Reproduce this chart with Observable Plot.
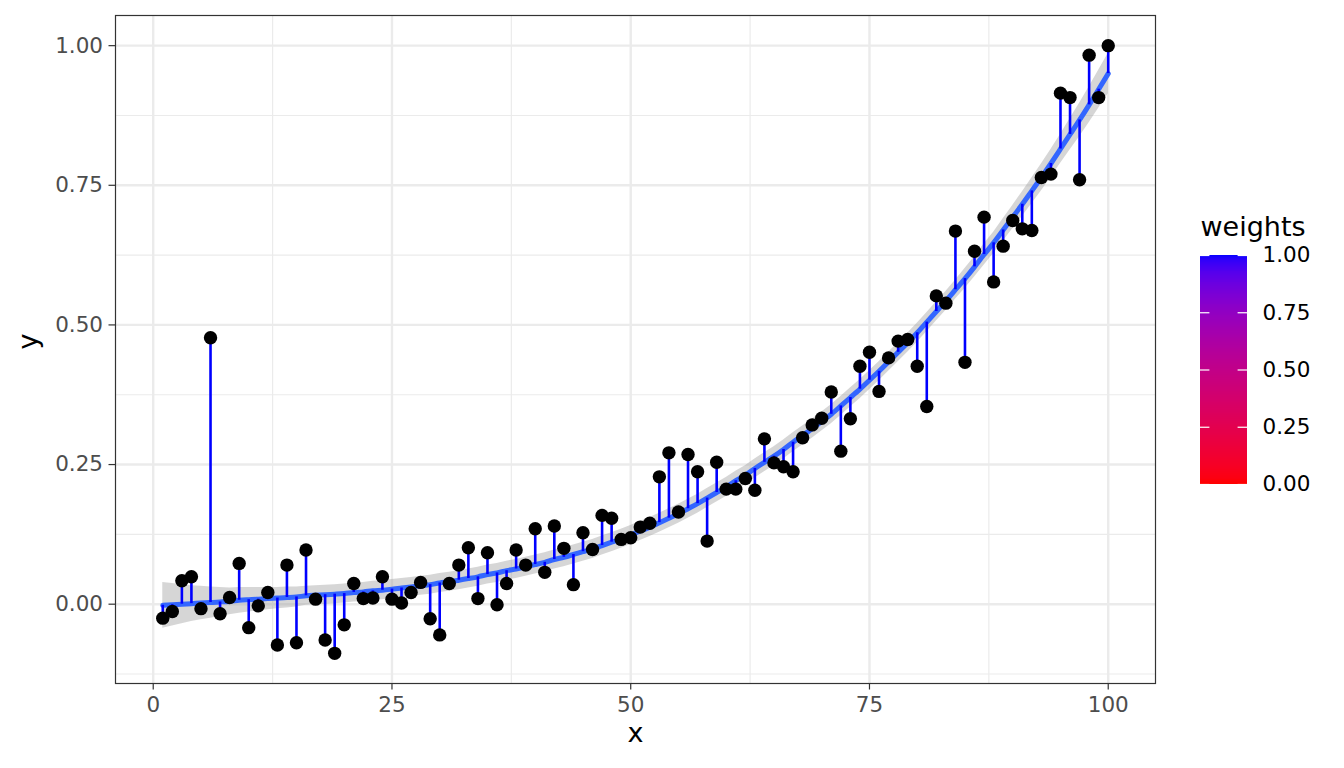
<!DOCTYPE html>
<html>
<head>
<meta charset="utf-8">
<script src="https://cdn.jsdelivr.net/npm/d3@7"></script>
<script src="https://cdn.jsdelivr.net/npm/@observablehq/plot@0.6"></script>
<style>
  html, body { margin: 0; padding: 0; background: #ffffff; }
  #wrap { position: relative; width: 1344px; height: 768px; font-family: "DejaVu Sans", sans-serif; }
  #legend { position: absolute; left: 1200px; top: 200px; }
</style>
</head>
<body>
<div id="wrap"><div id="chart"></div><div id="legend"></div></div>
<script>
// ---- data ----
const xs = [
  1,2,3,4,5,6,7,8,9,10,11,12,13,14,15,16,17,18,19,20,
  21,22,23,24,25,26,27,28,29,30,31,32,33,34,35,36,37,38,39,40,
  41,42,43,44,45,46,47,48,49,50,51,52,53,54,55,56,57,58,59,60,
  61,62,63,64,65,66,67,68,69,70,71,72,73,74,75,76,77,78,79,80,
  81,82,83,84,85,86,87,88,89,90,91,92,93,94,95,96,97,98,99,100
];
const yValues = [
  -0.025,-0.013,0.042,0.049,-0.008,0.477,-0.017,0.012,0.073,-0.042,
  -0.003,0.021,-0.073,0.070,-0.069,0.097,0.009,-0.064,-0.088,-0.037,
  0.037,0.010,0.011,0.049,0.009,0.002,0.021,0.039,-0.026,-0.055,
  0.037,0.070,0.101,0.010,0.092,-0.001,0.037,0.097,0.070,0.135,
  0.057,0.140,0.100,0.035,0.128,0.098,0.159,0.154,0.116,0.119,
  0.138,0.145,0.228,0.271,0.165,0.268,0.237,0.113,0.254,0.206,
  0.206,0.225,0.204,0.296,0.253,0.246,0.237,0.298,0.321,0.333,
  0.380,0.274,0.332,0.426,0.451,0.381,0.441,0.471,0.474,0.426,
  0.354,0.552,0.539,0.668,0.433,0.632,0.693,0.577,0.641,0.687,
  0.672,0.669,0.764,0.770,0.915,0.907,0.760,0.983,0.907,1.000
];
const fitted = [
  -0.002,-0.001,0.000,0.001,0.002,0.003,0.004,0.005,0.007,0.008,
  0.009,0.010,0.011,0.012,0.013,0.015,0.016,0.017,0.018,0.019,
  0.021,0.022,0.024,0.025,0.027,0.029,0.031,0.033,0.035,0.038,
  0.040,0.043,0.046,0.049,0.053,0.056,0.060,0.063,0.067,0.071,
  0.075,0.080,0.084,0.089,0.094,0.099,0.105,0.111,0.117,0.124,
  0.131,0.138,0.146,0.154,0.162,0.171,0.180,0.190,0.200,0.210,
  0.221,0.231,0.243,0.254,0.265,0.277,0.290,0.302,0.314,0.327,
  0.340,0.355,0.370,0.385,0.401,0.417,0.434,0.451,0.468,0.486,
  0.505,0.524,0.543,0.563,0.583,0.604,0.626,0.647,0.670,0.693,
  0.716,0.740,0.764,0.789,0.815,0.841,0.867,0.894,0.922,0.950
];
// half-width of the grey confidence band
const bandHalf = [
  0.041,0.038,0.035,0.032,0.030,0.028,0.026,0.024,0.023,0.022,
  0.021,0.020,0.019,0.019,0.018,0.017,0.017,0.017,0.017,0.017,
  0.017,0.017,0.017,0.017,0.017,0.017,0.017,0.017,0.017,0.017,
  0.017,0.017,0.017,0.017,0.017,0.017,0.017,0.017,0.017,0.017,
  0.017,0.017,0.017,0.017,0.017,0.017,0.017,0.017,0.017,0.017,
  0.017,0.017,0.017,0.017,0.017,0.017,0.017,0.017,0.017,0.017,
  0.017,0.017,0.017,0.017,0.017,0.017,0.017,0.017,0.017,0.017,
  0.017,0.017,0.017,0.017,0.017,0.017,0.017,0.017,0.017,0.017,
  0.017,0.017,0.017,0.017,0.018,0.018,0.019,0.019,0.020,0.021,
  0.022,0.023,0.024,0.025,0.026,0.028,0.030,0.032,0.034,0.036
];
const weights = [
  1,1,1,1,1,1,1,1,1,1, 1,1,1,1,1,1,1,1,1,1,
  1,1,1,1,1,1,1,1,1,1, 1,1,1,1,1,1,1,1,1,1,
  1,1,1,1,1,1,1,1,1,1, 1,1,1,1,1,1,1,1,1,1,
  1,1,1,1,1,1,1,1,1,1, 1,1,1,1,1,1,1,1,1,1,
  1,1,1,1,1,1,1,1,1,1, 1,1,1,1,1,1,1,1,1,1
];
const xMajor = [0, 25, 50, 75, 100];
const xMinor = [12.5, 37.5, 62.5, 87.5];
const yMajor = [0, 0.25, 0.5, 0.75, 1];
const yMinor = [-0.125, 0.125, 0.375, 0.625, 0.875];
const legendTicks = [0, 0.25, 0.5, 0.75, 1];

const data = xs.map((x, i) => ({
  x, y: yValues[i], fit: fitted[i],
  lo: fitted[i] - bandHalf[i], hi: fitted[i] + bandHalf[i], w: weights[i]
}));

const colorScale = {type: "linear", domain: [0, 1], range: ["red", "blue"], interpolate: d3.interpolateLab};
const FONT = "DejaVu Sans, sans-serif";
const TICK_FS = 21.5;
const TITLE_FS = 27;

const chart = Plot.plot({
  width: 1344, height: 768,
  marginLeft: 115, marginRight: 189, marginTop: 15, marginBottom: 85,
  style: {fontFamily: FONT, background: "white"},
  x: {domain: [-3.95, 104.95]},
  y: {domain: [-0.142, 1.054]},
  color: colorScale,
  marks: [
    Plot.ruleX(xMinor, {stroke: "#EBEBEB", strokeWidth: 1.2}),
    Plot.ruleY(yMinor, {stroke: "#EBEBEB", strokeWidth: 1.2}),
    Plot.ruleX(xMajor, {stroke: "#EBEBEB", strokeWidth: 2.4}),
    Plot.ruleY(yMajor, {stroke: "#EBEBEB", strokeWidth: 2.4}),
    Plot.areaY(data, {x: "x", y1: "lo", y2: "hi", fill: "#999999", fillOpacity: 0.4}),
    Plot.line(data, {x: "x", y: "fit", stroke: "#3366FF", strokeWidth: 5, curve: "natural"}),
    Plot.ruleX(data, {x: "x", y1: "y", y2: "fit", stroke: "w", strokeWidth: 2.6}),
    Plot.dot(data, {x: "x", y: "y", r: 6.7, fill: "black", stroke: "none"}),
    Plot.frame({stroke: "#333333", strokeWidth: 1.2}),
    Plot.axisX(xMajor, {tickSize: 6.5, tickPadding: 7, fontSize: TICK_FS, stroke: "#333333", strokeWidth: 1.2, fill: "#4D4D4D", tickFormat: d => String(d), label: null}),
    Plot.axisY(yMajor, {tickSize: 6.5, tickPadding: 6, fontSize: TICK_FS, stroke: "#333333", strokeWidth: 1.2, fill: "#4D4D4D", tickFormat: d3.format(".2f"), label: null}),
    Plot.text(["x"], {frameAnchor: "bottom", dy: 58, fontSize: TITLE_FS, fill: "black", text: d => d}),
    Plot.text(["y"], {frameAnchor: "left", dx: -87, rotate: -90, fontSize: TITLE_FS, fill: "black", text: d => d})
  ]
});
document.getElementById("chart").appendChild(chart);

const step = 0.004;
const legendSteps = d3.range(0, 1, step);
const legend = Plot.plot({
  width: 144, height: 299,
  marginLeft: 0, marginRight: 97, marginTop: 55, marginBottom: 15,
  style: {fontFamily: FONT, background: "transparent", overflow: "visible"},
  x: {domain: [0, 1], axis: null},
  y: {domain: [0, 1]},
  color: colorScale,
  marks: [
    Plot.rect(legendSteps, {x1: 0, x2: 1, y1: d => d, y2: d => Math.min(1, d + step * 2), fill: d => d + step / 2, shapeRendering: "crispEdges"}),
    Plot.ruleY(legendTicks, {x1: 0, x2: 0.2, stroke: "white", strokeWidth: 1.2}),
    Plot.ruleY(legendTicks, {x1: 0.8, x2: 1, stroke: "white", strokeWidth: 1.2}),
    Plot.axisY(legendTicks, {anchor: "right", tickSize: 0, tickPadding: 15, fontSize: TICK_FS, fill: "black", tickFormat: d3.format(".2f"), label: null}),
    Plot.text(["weights"], {frameAnchor: "top-left", dy: -20, lineAnchor: "bottom", textAnchor: "start", fontSize: TITLE_FS, fill: "black", text: d => d})
  ]
});
document.getElementById("legend").appendChild(legend);
</script>
</body>
</html>
